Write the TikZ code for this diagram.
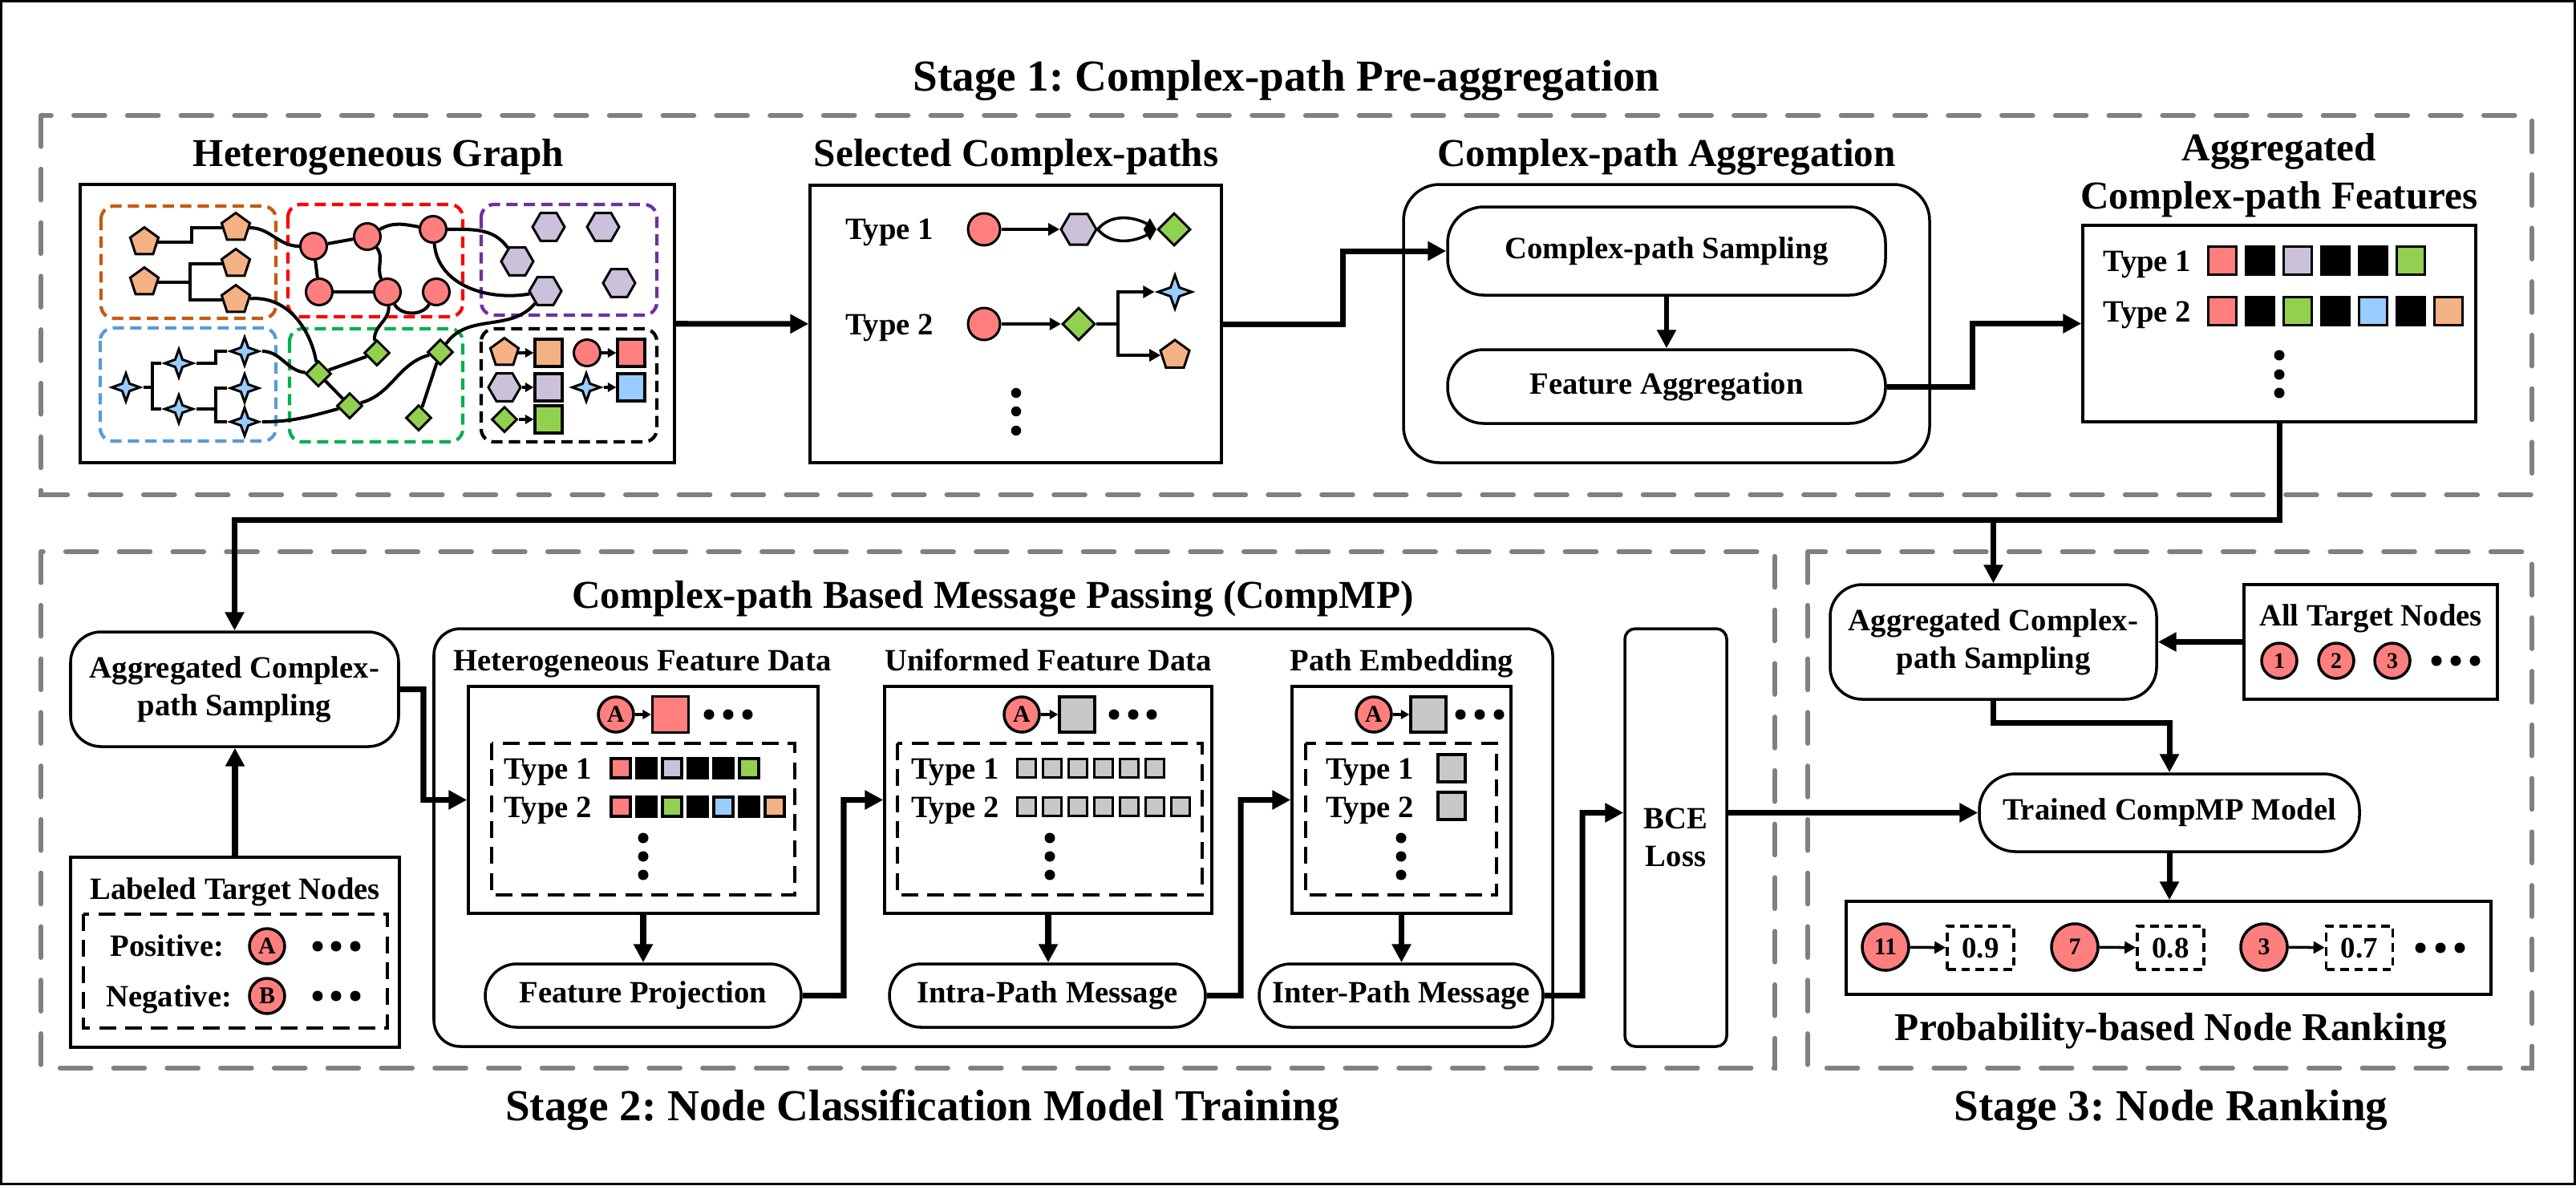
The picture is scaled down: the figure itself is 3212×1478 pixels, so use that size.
\documentclass[tikz,border=0pt]{standalone}
\usepackage{fontspec}
\setmainfont{Liberation Serif}
\usetikzlibrary{shapes.geometric,arrows.meta,fit,calc}
\definecolor{cred}{HTML}{FF7F7F}
\definecolor{corange}{HTML}{F4B183}
\definecolor{clilac}{HTML}{CCC1DA}
\definecolor{cgreen}{HTML}{92D050}
\definecolor{cblue}{HTML}{99CCFF}
\definecolor{cgray}{HTML}{C8C8C8}
\definecolor{stgray}{HTML}{808080}
\definecolor{kor}{HTML}{C55A11}
\definecolor{kred}{HTML}{FF0000}
\definecolor{kpur}{HTML}{7030A0}
\definecolor{kblu}{HTML}{5B9BD5}
\definecolor{kgrn}{HTML}{00B050}
\newcommand{\fsz}[2]{\fontsize{#1pt}{#2pt}\selectfont\bfseries}
\frenchspacing
\begin{document}
\frenchspacing
\begin{tikzpicture}[x=0.1mm,y=-0.1mm,
  mybox/.style={draw,line width=1pt,inner sep=0pt},
  txt/.style={font=\fsz{11}{13.4},align=center,inner sep=0pt},
  hd/.style={font=\fsz{14}{17},anchor=base},
  hs/.style={font=\fsz{11}{13},anchor=base},
  stitle/.style={font=\fsz{15.7}{18},anchor=base},
  conn/.style={line width=2pt,-{Triangle[length=6.5pt,width=6.5pt]}},
  marr/.style={line width=1pt,-{Triangle[length=4pt,width=4.2pt]}},
  sarr/.style={line width=0.9pt,-{Triangle[length=3pt,width=3.2pt]}},
  gedge/.style={line width=1.15pt},
  gnode/.style={draw,line width=0.85pt,inner sep=0pt},
  pent/.style={gnode,regular polygon,regular polygon sides=5,minimum size=3.7mm,fill=corange},
  hexa/.style={gnode,regular polygon,regular polygon sides=6,minimum size=4mm,fill=clilac},
  starn/.style={gnode,star,star points=4,star point ratio=2.7,minimum size=3.5mm,fill=cblue},
  diam/.style={gnode,diamond,minimum width=3.2mm,minimum height=3.2mm,fill=cgreen},
  rnode/.style={gnode,circle,minimum size=3.3mm,fill=cred},
  clust/.style={line width=1.2pt,rounded corners=1.6mm,dash pattern=on 4pt off 2.2pt},
  stagebox/.style={draw=stgray,line width=1.7pt,dash pattern=on 11pt off 8pt,line cap=round},
  sq/.style={draw,line width=0.9pt,minimum size=#1,inner sep=0pt},
  sq/.default=2.4mm,
  dotn/.style={circle,fill=black,minimum size=1.3mm,inner sep=0pt},
  letc/.style={circle,draw,line width=1pt,fill=cred,minimum size=4.4mm,inner sep=0pt,font=\fsz{8.5}{10}},
  idash/.style={line width=1.1pt,dash pattern=on 6pt off 3.2pt},
  dbox/.style={draw,line width=1pt,dash pattern=on 3pt off 2pt,minimum width=8.3mm,minimum height=5.4mm,inner sep=0pt,font=\fsz{10.5}{12}}
]
\useasboundingbox (0,0) rectangle (3212,1478);
\draw[line width=0.7pt] (1.5,1.5) rectangle (3210.5,1476.5);

% ---------- stage frames and titles
\draw[stagebox] (51,144) rectangle (3157,617);
\draw[stagebox] (51,688) rectangle (2213,1332);
\draw[stagebox] (2254,688) rectangle (3157,1332);
\node[stitle] (t1) at (1604,113) {Stage 1: Complex-path Pre-aggregation};
\node[stitle] (t2) at (1150,1397) {Stage 2: Node Classification Model Training};
\node[stitle] (t3) at (2707,1397) {Stage 3: Node Ranking};

% ---------- Heterogeneous graph
\node[hd] (hgt) at (472,207) {Heterogeneous Graph};
\node[mybox,line width=1.2pt,fit={(100,230)(841,577)}] (hg) {};
\draw[clust,kor] (126,257) rectangle (344,397);
\draw[clust,kred] (359,255) rectangle (577,395);
\draw[clust,kpur] (600,255) rectangle (819,393);
\draw[clust,kblu] (125,409) rectangle (344,550);
\draw[clust,kgrn] (361,410) rectangle (577,551);
\draw[clust,black] (600,410) rectangle (819,551);

\node[pent] (gp1) at (180,302) {};
\node[pent] (gp2) at (294,284) {};
\node[pent] (gp3) at (180,352) {};
\node[pent] (gp4) at (294,329) {};
\node[pent] (gp5) at (294,374) {};
\node[rnode] (gr1) at (391,307) {};
\node[rnode] (gr2) at (458,295) {};
\node[rnode] (gr3) at (540,286) {};
\node[rnode] (gr4) at (398,364) {};
\node[rnode] (gr5) at (483,364) {};
\node[rnode] (gr6) at (544,364) {};
\node[hexa] (gh1) at (684,283) {};
\node[hexa] (gh2) at (752,283) {};
\node[hexa] (gh3) at (645,326) {};
\node[hexa] (gh4) at (772,353) {};
\node[hexa] (gh5) at (680,363) {};
\node[starn] (gs1) at (157,483) {};
\node[starn] (gs2) at (223,453) {};
\node[starn] (gs3) at (223,510) {};
\node[starn] (gs4) at (305,438) {};
\node[starn] (gs5) at (305,484) {};
\node[starn] (gs6) at (305,526) {};
\node[diam] (gd1) at (397,466) {};
\node[diam] (gd2) at (470,440) {};
\node[diam] (gd3) at (436,506) {};
\node[diam] (gd4) at (549,439) {};
\node[diam] (gd5) at (522,521) {};

\draw[gedge] (gp1) -- (239,302) |- (gp2);
\draw[gedge] (gp3) -- (237,352);
\draw[gedge] (gp4) -| (237,374) -- (gp5);
\draw[gedge] (gs1) -- (190,483);
\draw[gedge] (gs2) -| (190,510) -- (gs3);
\draw[gedge] (gs2) -- (269,453) |- (gs4);
\draw[gedge] (gs3) -- (269,510);
\draw[gedge] (gs5) -| (269,526) -- (gs6);
\draw[gedge] (gp2) to[out=0,in=180] (gr1);
\draw[gedge] (gr1) -- (gr2);
\draw[gedge] (gr1) -- (gr4);
\draw[gedge] (gr4) -- (gr5);
\draw[gedge] (gr2) to[out=30,in=170] (gr3);
\draw[gedge] (gr2) to[out=-50,in=115] (gr5);
\draw[gedge] (gr5) to[out=-60,in=-120] (gr6);
\draw[gedge] (gr3) to[out=0,in=125] (gh3);
\draw[gedge] (gr3) to[out=-85,in=190] (gh5);
\draw[gedge] (gp5) to[out=5,in=100] (gd1);
\draw[gedge] (gs4) to[out=0,in=175] (gd1);
\draw[gedge] (gd1) -- (gd2);
\draw[gedge] (gd1) -- (gd3);
\draw[gedge] (gr5) to[out=-85,in=100] (gd2);
\draw[gedge] (gs6) to[out=0,in=195] (gd3);
\draw[gedge] (gd3) to[out=15,in=195] (gd4);
\draw[gedge] (gd4) -- (gd5);
\draw[gedge] (gd4) to[out=55,in=-130] (gh5);

% legend
\node[pent] (lp) at (629,440) {};
\node[sq=3.4mm,fill=corange] (lq1) at (684,440) {};
\node[rnode] (lr) at (732,440) {};
\node[sq=3.4mm,fill=cred] (lq2) at (787,440) {};
\node[hexa] (lh) at (629,483) {};
\node[sq=3.4mm,fill=clilac] (lq3) at (684,483) {};
\node[starn] (ls) at (731,483) {};
\node[sq=3.4mm,fill=cblue] (lq4) at (787,483) {};
\node[diam] (ld) at (629,523) {};
\node[sq=3.4mm,fill=cgreen] (lq5) at (684,523) {};
\draw[sarr] (lp) -- (lq1);
\draw[sarr] (lr) -- (lq2);
\draw[sarr] (lh) -- (lq3);
\draw[sarr] (ls) -- (lq4);
\draw[sarr] (ld) -- (lq5);

% ---------- Selected complex-paths
\node[hd] (scpt) at (1267,207) {Selected Complex-paths};
\node[mybox,fit={(1010,231)(1523,577)}] (scp) {};
\node[hs] (ty1) at (1109,298) {Type 1};
\node[rnode,minimum size=4mm] (c1) at (1227,286) {};
\node[hexa,minimum size=4.4mm] (h1) at (1345,286) {};
\node[diam,minimum width=4.1mm,minimum height=4.1mm] (d1) at (1464,286) {};
\draw[marr] (c1) -- (h1);
\draw[marr] (h1.0) to[out=50,in=150] (d1.180);
\draw[marr] (h1.0) to[out=-50,in=-150] (d1.180);
\node[hs] (ty2) at (1109,417) {Type 2};
\node[rnode,minimum size=4mm] (c2) at (1227,404) {};
\node[diam,minimum width=4.1mm,minimum height=4.1mm] (d2) at (1345,404) {};
\node[starn,minimum size=4.2mm] (st2) at (1465,364) {};
\node[pent,minimum size=3.8mm] (pe2) at (1465,443) {};
\draw[marr] (c2) -- (d2);
\draw[line width=1pt] (d2) -- (1394,404) coordinate (br);
\draw[marr] (br) |- (st2);
\draw[marr] (br) |- (pe2);
\foreach \yy [count=\i] in {490,513,537} \node[dotn,minimum size=1.25mm] (dsc\i) at (1267,\yy) {};

% ---------- Complex-path aggregation
\node[hd] (cpat) at (2078,207) {Complex-path Aggregation};
\node[mybox,rounded corners=4.5mm,fit={(1750,230)(2406,577)}] (cpa) {};
\node[mybox,rounded corners=4.5mm,fit={(1805,258)(2351,368)}] (cps) {};
\node[txt] (cpsl) at (cps.center) {Complex-path Sampling};
\node[mybox,rounded corners=4.5mm,fit={(1805,436)(2351,528)}] (fa) {};
\node[txt] (fal) at (fa.center) {Feature Aggregation};
\draw[conn,line width=1.6pt] (cps.south) -- (cps.south |- fa.north);

% ---------- Aggregated complex-path features
\node[hd] (acft1) at (2842,200) {Aggregated};
\node[hd] (acft2) at (2842,260) {Complex-path Features};
\node[mybox,fit={(2597,281)(3087,526)}] (acf) {};
\node[hs] (acfy1) at (2677,338) {Type 1};
\node[hs] (acfy2) at (2677,401) {Type 2};
\foreach \c [count=\i from 0] in {cred,black,clilac,black,black,cgreen}
  \node[sq=3.5mm,fill=\c] (acfA\i) at ({2771+47*\i},325) {};
\foreach \c [count=\i from 0] in {cred,black,cgreen,black,cblue,black,corange}
  \node[sq=3.5mm,fill=\c] (acfB\i) at ({2771+47*\i},388) {};
\foreach \yy [count=\i] in {443,467,490} \node[dotn] (dacf\i) at (2842,\yy) {};

% stage 1 connectors
\draw[conn] (hg) -- (scp);
\draw[conn] (scp.east) -- (1674,404) |- (cps.west);
\draw[conn] (fa.east) -- (2459,482) |- (acf.west);

% ---------- Stage 2 left
\node[mybox,rounded corners=3.8mm,fit={(88,788)(497,931)}] (s2samp) {};
\node[txt] (s2sampl) at (s2samp.center) {Aggregated Complex-\\path Sampling};
\node[mybox,fit={(88,1069)(498,1306)}] (ltn) {};
\node[hs] (ltnt) at (293,1121) {Labeled Target Nodes};
\draw[idash] (104,1140) rectangle (483,1282);
\node[hs,anchor=base west] (post) at (125,1192) {Positive:};
\node[hs,anchor=base west] (negt) at (120,1255) {Negative:};
\node[letc] (la) at (333,1180) {A};
\node[letc] (lb) at (333,1242) {B};
\foreach \xx [count=\i] in {396,419,443} {
  \node[dotn] (dpa\i) at (\xx,1180) {};
  \node[dotn] (dpb\i) at (\xx,1242) {};
}
\draw[conn] (ltn.north) -- (ltn.north |- s2samp.south);

% ---------- CompMP
\node[hd] (cmpt) at (1238,758) {Complex-path Based Message Passing (CompMP)};
\node[mybox,rounded corners=3.3mm,fit={(541,784)(1936,1305)}] (cmp) {};
\node[hs] (hfdt) at (801,836) {Heterogeneous Feature Data};
\node[hs] (ufdt) at (1307,836) {Uniformed Feature Data};
\node[hs] (pet) at (1748,836) {Path Embedding};

% HFD
\node[mybox,fit={(584,856)(1020,1139)}] (hfd) {};
\node[letc] (ha) at (768,891) {A};
\node[sq=4.5mm,fill=cred] (hsq) at (836,891) {};
\draw[sarr] (ha) -- (hsq);
\foreach \xx [count=\i] in {884,908,932} \node[dotn] (dh\i) at (\xx,891) {};
\draw[idash] (613,927) rectangle (991,1116);
\node[hs] (hy1) at (683,971) {Type 1};
\node[hs] (hy2) at (683,1019) {Type 2};
\foreach \c [count=\i from 0] in {cred,black,clilac,black,black,cgreen}
  \node[sq,fill=\c] (hA\i) at ({774+32*\i},958) {};
\foreach \c [count=\i from 0] in {cred,black,cgreen,black,cblue,black,corange}
  \node[sq,fill=\c] (hB\i) at ({774+32*\i},1006) {};
\foreach \yy [count=\i] in {1045,1068,1091} \node[dotn] (dhv\i) at (802,\yy) {};
\node[mybox,rounded corners=3.95mm,fit={(605,1202)(999,1281)}] (fp) {};
\node[txt] (fpl) at (fp.center) {Feature Projection};
\draw[conn] (hfd.south) -- (hfd.south |- fp.north);

% UFD
\node[mybox,fit={(1103,856)(1511,1139)}] (ufd) {};
\node[letc] (ua) at (1274,891) {A};
\node[sq=4.4mm,fill=cgray] (usq) at (1343,891) {};
\draw[sarr] (ua) -- (usq);
\foreach \xx [count=\i] in {1389,1413,1436} \node[dotn] (du\i) at (\xx,891) {};
\draw[idash] (1119,927) rectangle (1499,1116);
\node[hs] (uy1) at (1191,971) {Type 1};
\node[hs] (uy2) at (1191,1019) {Type 2};
\foreach \i in {0,...,5} \node[sq=2.3mm,fill=cgray] (uA\i) at ({1280+32*\i},958) {};
\foreach \i in {0,...,6} \node[sq=2.3mm,fill=cgray] (uB\i) at ({1280+32*\i},1006) {};
\foreach \yy [count=\i] in {1045,1068,1091} \node[dotn] (duv\i) at (1309,\yy) {};
\node[mybox,rounded corners=3.95mm,fit={(1109,1202)(1503,1281)}] (ipm) {};
\node[txt] (ipml) at (ipm.center) {Intra-Path Message};
\draw[conn] (ufd.south) -- (ufd.south |- ipm.north);

% PE
\node[mybox,fit={(1611,856)(1884,1139)}] (pe) {};
\node[letc] (pa) at (1713,891) {A};
\node[sq=4.4mm,fill=cgray] (psq) at (1781,891) {};
\draw[sarr] (pa) -- (psq);
\foreach \xx [count=\i] in {1821,1845,1869} \node[dotn] (dp\i) at (\xx,891) {};
\draw[idash] (1628,927) rectangle (1866,1116);
\node[hs] (py1) at (1708,971) {Type 1};
\node[hs] (py2) at (1708,1019) {Type 2};
\node[sq=3.4mm,fill=cgray] (pA) at (1810,958) {};
\node[sq=3.4mm,fill=cgray] (pB) at (1810,1005) {};
\foreach \yy [count=\i] in {1045,1068,1091} \node[dotn] (dpv\i) at (1747,\yy) {};
\node[mybox,rounded corners=3.95mm,fit={(1570,1202)(1924,1281)}] (inter) {};
\node[txt] (interl) at (inter.center) {Inter-Path Message};
\draw[conn] (pe.south) -- (pe.south |- inter.north);

% BCE
\node[mybox,rounded corners=1.3mm,fit={(2026,784)(2153,1305)}] (bce) {};
\node[txt] (bcel) at (bce.center) {BCE\\Loss};

% ---------- Stage 3
\node[mybox,rounded corners=4mm,fit={(2282,729)(2689,872)}] (s3samp) {};
\node[txt] (s3sampl) at (s3samp.center) {Aggregated Complex-\\path Sampling};
\node[mybox,fit={(2798,729)(3114,872)}] (atn) {};
\node[hs] (atnt) at (2956,780) {All Target Nodes};
\node[letc,font=\fsz{8}{10}] (n1) at (2842,824) {1};
\node[letc,font=\fsz{8}{10}] (n2) at (2913,824) {2};
\node[letc,font=\fsz{8}{10}] (n3) at (2983,824) {3};
\foreach \xx [count=\i] in {3038,3062,3086} \node[dotn] (dat\i) at (\xx,824) {};
\node[mybox,rounded corners=4.5mm,fit={(2468,965)(2942,1062)}] (tcm) {};
\node[txt] (tcml) at (tcm.center) {Trained CompMP Model};
\node[mybox,fit={(2302,1124)(3106,1240)}] (rank) {};
\node[letc,minimum size=5.8mm] (k11) at (2351,1181) {11};
\node[dbox] (v1) at (2469.5,1182) {0.9};
\node[letc,minimum size=5.8mm] (k7) at (2587,1181) {7};
\node[dbox] (v2) at (2706.5,1182) {0.8};
\node[letc,minimum size=5.8mm] (k3) at (2823,1181) {3};
\node[dbox] (v3) at (2942,1182) {0.7};
\draw[marr] (k11) -- (v1);
\draw[marr] (k7) -- (v2);
\draw[marr] (k3) -- (v3);
\foreach \xx [count=\i] in {3018,3043,3067} \node[dotn] (drk\i) at (\xx,1182) {};
\node[hd] (rankt) at (2707,1297) {Probability-based Node Ranking};

% ---------- connectors stage 2/3
\draw[conn] (acf.south) -- (2842,648) -| (s2samp.north);
\draw[conn] (2485.5,648) -- (s3samp.north);
\draw[conn] (s2samp.east) -- (528,859.5) |- (hfd.west);
\draw[conn] (fp.east) -- (1052,1241.5) |- (ufd.west);
\draw[conn] (ipm.east) -- (1547,1241.5) |- (pe.west);
\draw[conn] (inter.east) -- (1973,1241.5) |- (bce.west |- tcm.west);
\draw[conn] (bce.east |- tcm.west) -- (tcm.west);
\draw[conn] (atn) -- (s3samp);
\draw[conn] (s3samp.south) -- (2485.5,901) -| (tcm.north);
\draw[conn] (tcm.south) -- (tcm.south |- rank.north);
\end{tikzpicture}
\end{document}
